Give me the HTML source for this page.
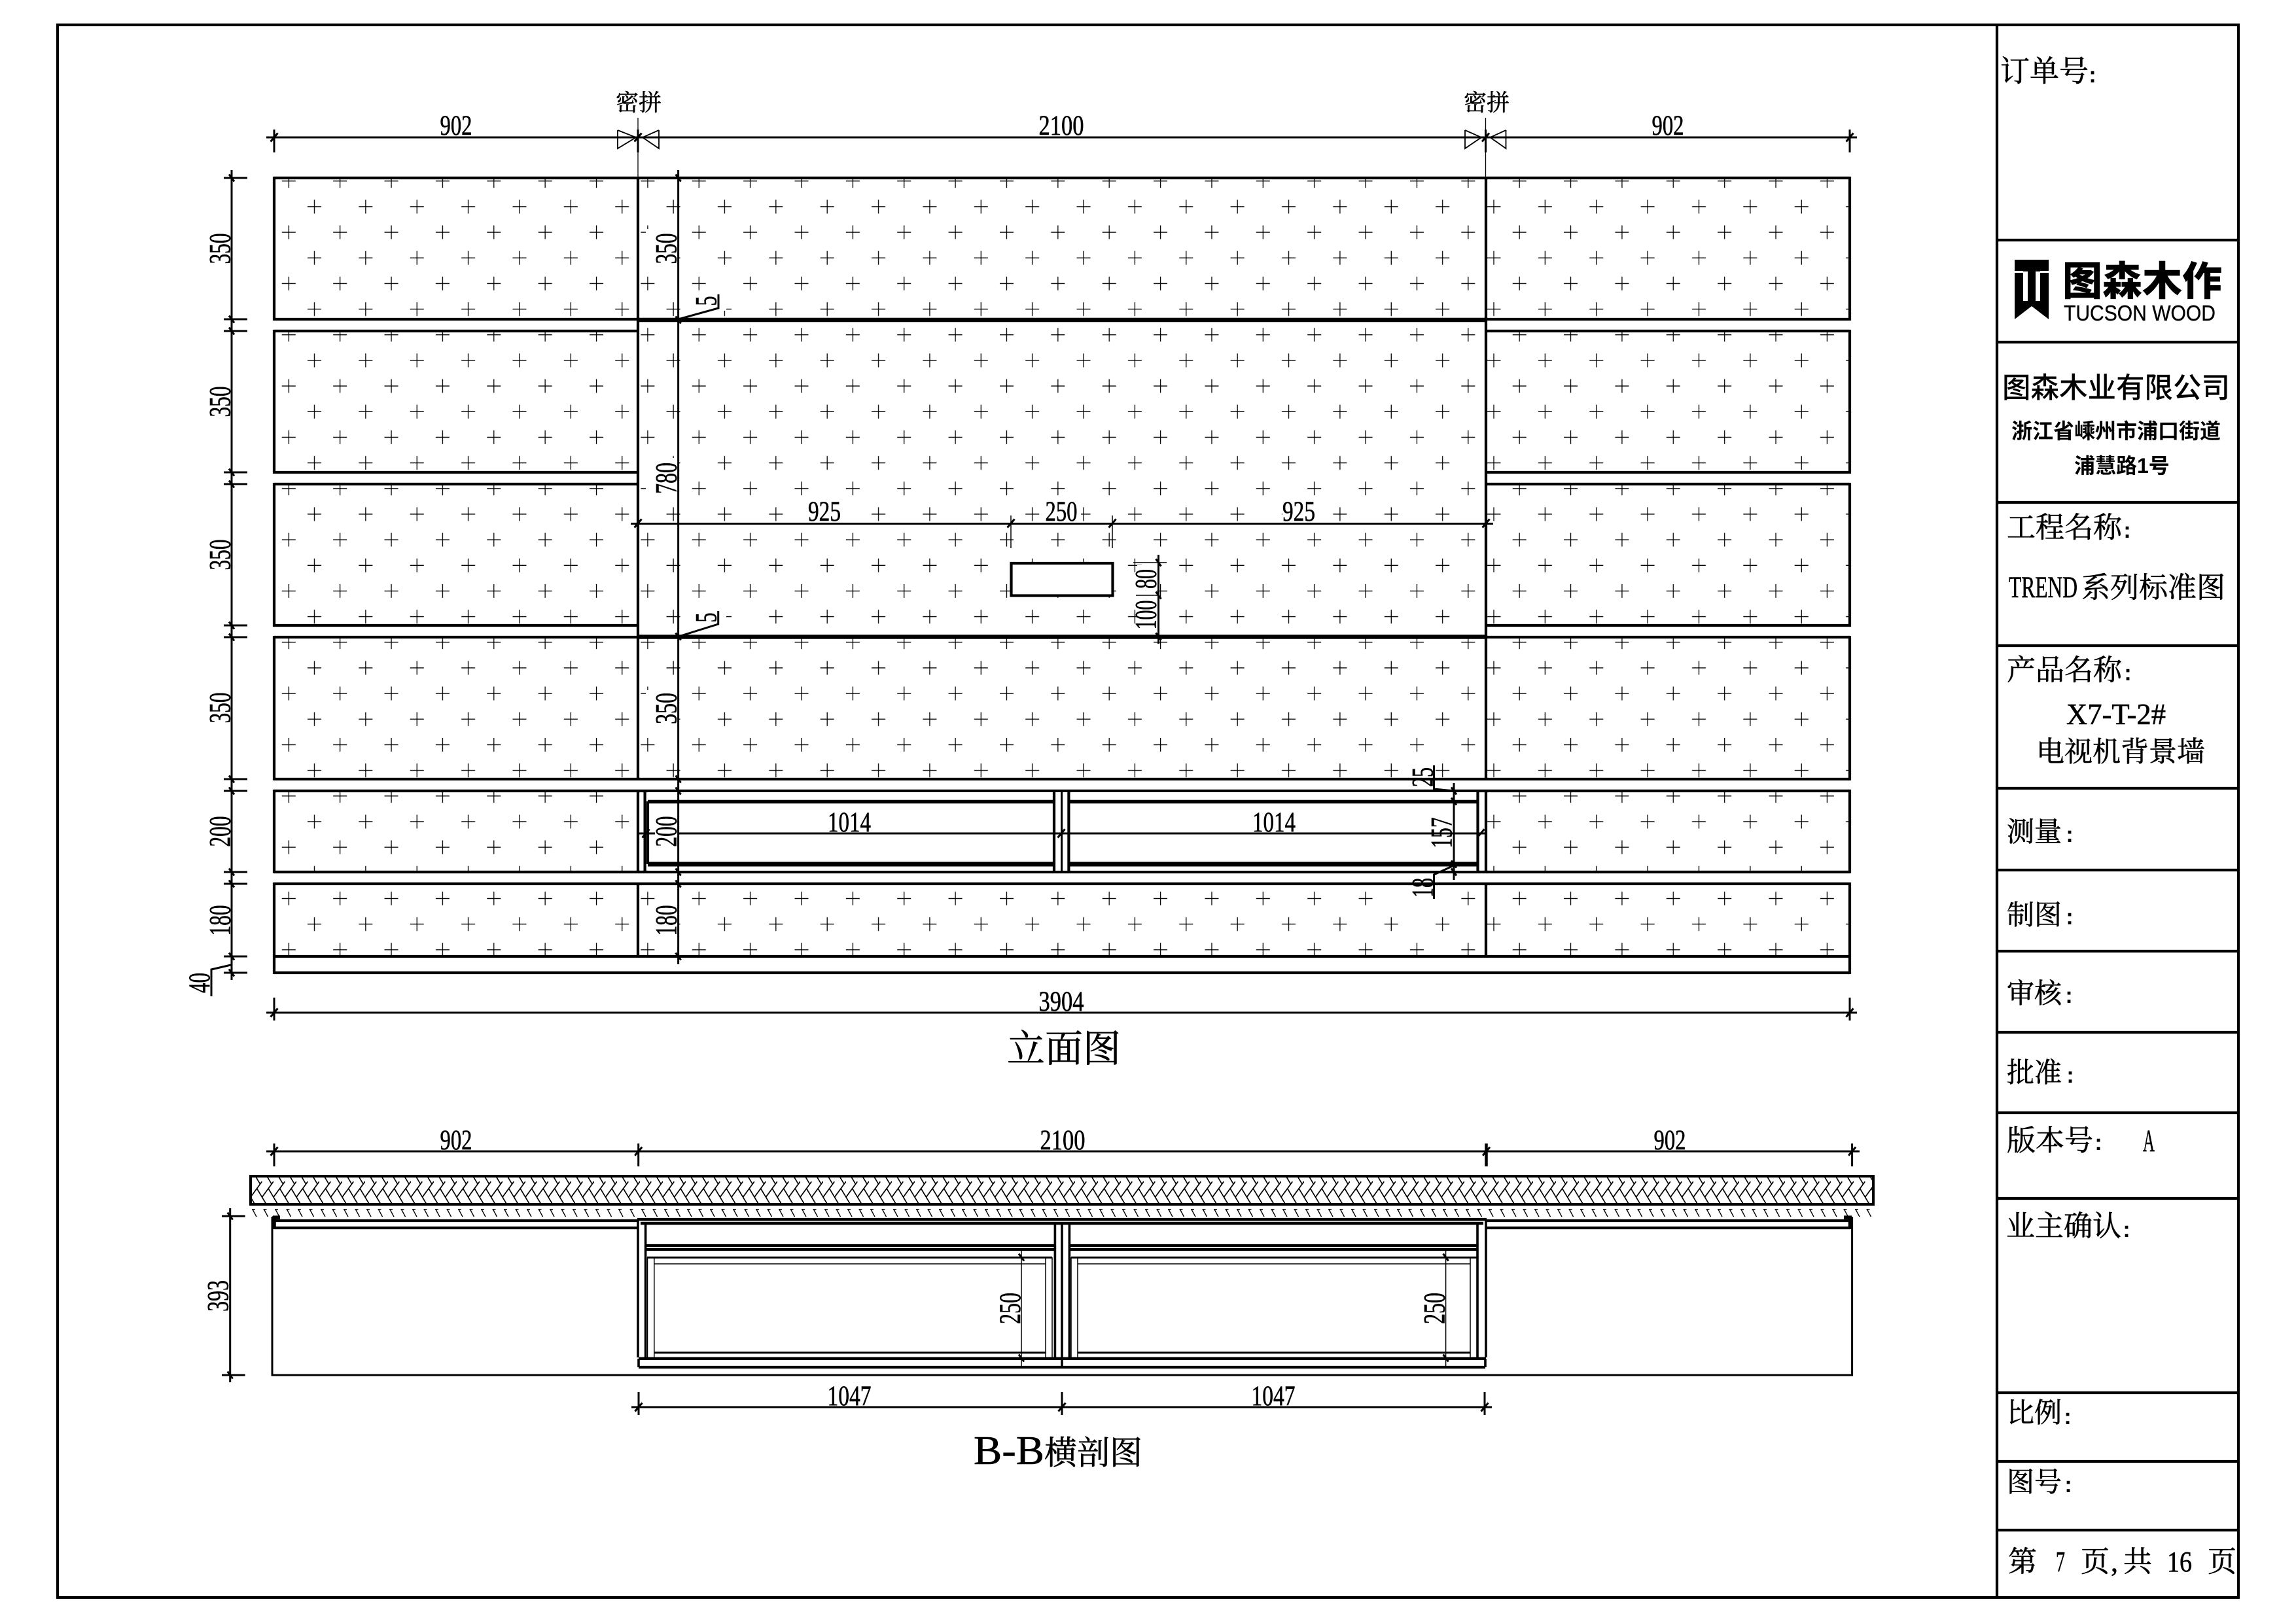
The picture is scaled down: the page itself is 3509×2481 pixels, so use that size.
<!DOCTYPE html>
<html><head><meta charset="utf-8">
<style>
html,body{margin:0;padding:0;background:#fff}
svg{display:block}
.n{font-family:"Liberation Serif",serif;font-size:43px;text-anchor:middle;fill:#000;stroke:#000;stroke-width:.6}
.v{font-family:"Liberation Serif",serif;font-size:47px;text-anchor:middle;fill:#000;stroke:#000;stroke-width:.6}
.z{font-family:"Liberation Serif","Noto Serif CJK SC",serif;font-size:44px;fill:#000;stroke:#000;stroke-width:.6}
.c{font-family:"Liberation Sans",sans-serif;font-size:34px;font-weight:bold;text-anchor:middle;fill:#000}
.s{font-family:"Liberation Sans","Noto Sans CJK SC",sans-serif;font-weight:500;fill:#000}
.l{fill:none;stroke:#000;stroke-width:4.2}
.t{fill:none;stroke:#000;stroke-width:6.5}
.d{fill:none;stroke:#000;stroke-width:3}
.f{fill:none;stroke:#000;stroke-width:1.5}
</style></head><body>
<svg xmlns="http://www.w3.org/2000/svg" width="3509" height="2481" viewBox="0 0 3509 2481">
<defs>
<pattern id="cr" patternUnits="userSpaceOnUse" x="421.3" y="256.7" width="78.37" height="78.34">
<path d="M9.5 20H30.5M20 9.5V30.5M48.7 59.2H69.7M59.2 48.7V69.7" fill="none" stroke="#000" stroke-width="1.3"/>
</pattern>
<pattern id="her" patternUnits="userSpaceOnUse" x="383" y="1798" width="17.5" height="43">
<path d="M0 32L17.5 8M7.4 0L14.6 12M9.6 18.8L24.1 43M-7.9 18.8L6.6 43" fill="none" stroke="#000" stroke-width="1.7"/>
</pattern>
<pattern id="das" patternUnits="userSpaceOnUse" x="383" y="1848" width="17.5" height="12">
<path d="M2 .8H7M3 .8L9 12" fill="none" stroke="#000" stroke-width="1.4"/>
</pattern>
<path id="h" d="M-5.5 6.5L5.5 -6.5" fill="none" stroke="#000" stroke-width="3"/>
<path id="k" d="M-4 -5.5L4 5.5" fill="none" stroke="#000" stroke-width="3"/>
</defs>
<rect width="3509" height="2481" fill="#fff"/>

<!-- frame -->
<rect x="88" y="38" width="3333" height="2404" class="l"/>
<path class="l" d="M3052 38V2442M3052 367H3421M3052 523H3421M3052 768H3421M3052 987H3421M3052 1205H3421M3052 1330H3421M3052 1454H3421M3052 1578H3421M3052 1701H3421M3052 1832H3421M3052 2129H3421M3052 2234H3421M3052 2339H3421"/>

<!-- cross hatch panels -->
<path fill="url(#cr)" d="M419 272H2827V488H419ZM975 488H2271V974H975ZM419 506H975V722H419ZM2271 506H2827V722H2271ZM419 740H975V956H419ZM2271 740H2827V956H2271ZM419 974H2827V1191H419ZM419 1209H975V1333H419ZM2271 1209H2827V1333H2271ZM419 1351H2827V1462H419Z"/>
<!-- text wipeouts -->
<g fill="#fff">
<rect x="987" y="350" width="49" height="60"/>
<rect x="987" y="1055" width="49" height="56"/>
<rect x="987" y="700" width="49" height="58"/>
<rect x="1060" y="445" width="50" height="30"/>
<rect x="1060" y="930" width="50" height="30"/>
<rect x="1235" y="765" width="50" height="33"/>
<rect x="1597" y="765" width="55" height="33"/>
<rect x="1960" y="765" width="50" height="33"/>
<rect x="1738" y="864" width="30" height="42"/>
<rect x="1738" y="915" width="30" height="54"/>
<rect x="2150" y="1340" width="40" height="45"/>
<rect x="1000" y="1380" width="36" height="50"/>
<rect x="2150" y="1150" width="40" height="40"/>
</g>

<!-- elevation main lines -->
<path class="l" d="M419 272H2827M419 488H975M2271 488H2827M419 506H975M2271 506H2827M419 722H975M2271 722H2827M419 740H975M2271 740H2827M419 956H975M2271 956H2827M419 974H2827M419 1191H2827M419 1209H2827M419 1333H2827M419 1351H2827M419 1462H2827M419 1487H2827"/>
<path class="l" d="M419 270V490M419 504V724M419 738V958M419 972V1193M419 1207V1335M419 1349V1489M2827 270V490M2827 504V724M2827 738V958M2827 972V1193M2827 1207V1335M2827 1349V1489M975 272V1191M2271 272V1191M975 1209V1333M2271 1209V1333M975 1351V1462M2271 1351V1462"/>
<path class="t" d="M975 489H2271M975 973.5H2271"/>
<rect x="1545.5" y="861" width="155" height="49.5" fill="#fff" stroke="#000" stroke-width="4.2"/>

<!-- cabinet in elevation -->
<rect x="990" y="1211" width="1268" height="120" fill="#fff"/>
<path class="l" d="M985.6 1209V1333M990 1225V1321M1611 1209V1333M1633.4 1209V1333M2258.5 1209V1333"/>
<path class="d" d="M1622.6 1209V1333"/>
<path fill="none" stroke="#000" stroke-width="5.5" d="M990 1225.5H1611M1633 1225.5H2258"/>
<path fill="none" stroke="#000" stroke-width="7" d="M990 1321H1611M1633 1321H2258"/>
<path class="d" d="M975 1274H1001M1036 1274H2271"/>

<!-- elevation dims -->
<path class="d" d="M407 210H2838M419 198V233M2827 198V233M975 198V233M2270.5 198V233"/>
<path fill="none" stroke="#000" stroke-width="1.3" d="M975 180V272M2270.5 180V272"/>
<path fill="none" stroke="#000" stroke-width="1.8" d="M944 199V227L972 210L944 199M1007 199V227L982 210L1007 199M2239 199V227L2264 210L2239 199M2301.5 199V227L2277.5 210L2301.5 199"/>
<path class="d" d="M354 260V1498M342 272H378M342 488H378M342 506H378M342 722H378M342 740H378M342 956H378M342 974H378M342 1191H378M342 1209H378M342 1333H378M342 1351H378M342 1462H378M342 1487H378"/>
<path class="d" d="M1036.6 260V1474"/>
<path class="d" d="M964 800.5H2282"/>
<path class="f" d="M1545 788V838M1700 788V838M1732 860H1783M1736 910H1771"/>
<path class="d" d="M1770.5 848V984M2222 1197V1345"/>
<path class="d" d="M407 1548H2838"/>
<path class="d" d="M419 1525V1560M2827 1525V1560"/>
<path class="d" d="M1036.6 488L1098 471V450M1037 973L1097.7 954V934M353 1475L323 1482V1523M2222 1209L2191.5 1206V1170M2222 1323L2191.5 1337V1374"/>

<use href="#h" x="419" y="210"/><use href="#h" x="975" y="210"/><use href="#h" x="2270.5" y="210"/><use href="#h" x="2827" y="210"/>
<use href="#h" x="975" y="800"/><use href="#h" x="1545" y="800"/><use href="#h" x="1700" y="800"/><use href="#h" x="2271" y="800"/>
<use href="#h" x="419" y="1548"/><use href="#h" x="2827" y="1548"/>
<use href="#h" x="987" y="1274"/><use href="#h" x="1622" y="1274"/><use href="#h" x="2263" y="1274"/>
<use href="#k" x="354" y="272"/><use href="#k" x="354" y="488"/><use href="#k" x="354" y="506"/><use href="#k" x="354" y="722"/><use href="#k" x="354" y="740"/><use href="#k" x="354" y="956"/><use href="#k" x="354" y="974"/><use href="#k" x="354" y="1191"/><use href="#k" x="354" y="1209"/><use href="#k" x="354" y="1333"/><use href="#k" x="354" y="1351"/><use href="#k" x="354" y="1462"/><use href="#k" x="354" y="1487"/>
<use href="#k" x="1036.6" y="272"/><use href="#k" x="1036.6" y="489"/><use href="#k" x="1036.6" y="973"/><use href="#k" x="1036.6" y="1191"/><use href="#k" x="1036.6" y="1209"/><use href="#k" x="1036.6" y="1333"/><use href="#k" x="1036.6" y="1351"/><use href="#k" x="1036.6" y="1462"/>
<use href="#k" x="1770.5" y="860"/><use href="#k" x="1770.5" y="910"/><use href="#k" x="1770.5" y="973"/>
<use href="#k" x="2222" y="1209"/><use href="#k" x="2222" y="1225"/><use href="#k" x="2222" y="1321"/><use href="#k" x="2222" y="1333"/>

<!-- elevation dim text -->
<text class="n" x="697" y="206" textLength="49" lengthAdjust="spacingAndGlyphs">902</text>
<text class="n" x="1622" y="206" textLength="69" lengthAdjust="spacingAndGlyphs">2100</text>
<text class="n" x="2549" y="206" textLength="49" lengthAdjust="spacingAndGlyphs">902</text>
<text class="n" x="1622" y="1545" textLength="69" lengthAdjust="spacingAndGlyphs">3904</text>
<text class="n" x="1260" y="796" textLength="50" lengthAdjust="spacingAndGlyphs">925</text>
<text class="n" x="1622" y="796" textLength="49" lengthAdjust="spacingAndGlyphs">250</text>
<text class="n" x="1985" y="796" textLength="50" lengthAdjust="spacingAndGlyphs">925</text>
<text class="n" x="1298" y="1271" textLength="66" lengthAdjust="spacingAndGlyphs">1014</text>
<text class="n" x="1947" y="1271" textLength="66" lengthAdjust="spacingAndGlyphs">1014</text>
<text class="v" transform="translate(336,380) rotate(-90)" y="15.5" textLength="47" lengthAdjust="spacingAndGlyphs">350</text>
<text class="v" transform="translate(336,614) rotate(-90)" y="15.5" textLength="47" lengthAdjust="spacingAndGlyphs">350</text>
<text class="v" transform="translate(336,848) rotate(-90)" y="15.5" textLength="47" lengthAdjust="spacingAndGlyphs">350</text>
<text class="v" transform="translate(336,1082) rotate(-90)" y="15.5" textLength="47" lengthAdjust="spacingAndGlyphs">350</text>
<text class="v" transform="translate(336,1271) rotate(-90)" y="15.5" textLength="47" lengthAdjust="spacingAndGlyphs">200</text>
<text class="v" transform="translate(336,1407) rotate(-90)" y="15.5" textLength="47" lengthAdjust="spacingAndGlyphs">180</text>
<text class="v" transform="translate(304.5,1502.5) rotate(-90)" y="15.5" textLength="31" lengthAdjust="spacingAndGlyphs">40</text>
<text class="v" transform="translate(1018,380) rotate(-90)" y="15.5" textLength="47" lengthAdjust="spacingAndGlyphs">350</text>
<text class="v" transform="translate(1018,731) rotate(-90)" y="15.5" textLength="48" lengthAdjust="spacingAndGlyphs">780</text>
<text class="v" transform="translate(1018,1083) rotate(-90)" y="15.5" textLength="48" lengthAdjust="spacingAndGlyphs">350</text>
<text class="v" transform="translate(1018,1271) rotate(-90)" y="15.5" textLength="47" lengthAdjust="spacingAndGlyphs">200</text>
<text class="v" transform="translate(1018,1407) rotate(-90)" y="15.5" textLength="47" lengthAdjust="spacingAndGlyphs">180</text>
<text class="v" transform="translate(1079,460) rotate(-90)" y="15.5" textLength="15" lengthAdjust="spacingAndGlyphs">5</text>
<text class="v" transform="translate(1079,944) rotate(-90)" y="15.5" textLength="15" lengthAdjust="spacingAndGlyphs">5</text>
<text class="v" transform="translate(1751,885) rotate(-90)" y="15.5" textLength="30" lengthAdjust="spacingAndGlyphs">80</text>
<text class="v" transform="translate(1751,940) rotate(-90)" y="15.5" textLength="45" lengthAdjust="spacingAndGlyphs">100</text>
<text class="v" transform="translate(2203,1273) rotate(-90)" y="15.5" textLength="47" lengthAdjust="spacingAndGlyphs">157</text>
<text class="v" transform="translate(2174,1188) rotate(-90)" y="15.5" textLength="30" lengthAdjust="spacingAndGlyphs">25</text>
<text class="v" transform="translate(2174,1357) rotate(-90)" y="15.5" textLength="30" lengthAdjust="spacingAndGlyphs">18</text>
<text class="z" x="941" y="169" style="font-size:35px">密拼</text>
<text class="z" x="2237" y="169" style="font-size:35px">密拼</text>
<text class="z" x="1539" y="1623" style="font-size:58px">立面图</text>

<!-- section -->
<path class="d" d="M407 1760H2842M419 1748V1783M975.7 1748V1783"/>
<path fill="none" stroke="#000" stroke-width="4.5" d="M2271.5 1748V1783"/>
<path class="d" d="M2830.6 1748V1783"/>
<use href="#h" x="419" y="1760"/><use href="#h" x="975.7" y="1760"/><use href="#h" x="2271.5" y="1760"/><use href="#h" x="2830.6" y="1760"/>
<text class="n" x="697" y="1757" textLength="49" lengthAdjust="spacingAndGlyphs">902</text>
<text class="n" x="1624" y="1757" textLength="69" lengthAdjust="spacingAndGlyphs">2100</text>
<text class="n" x="2552" y="1757" textLength="49" lengthAdjust="spacingAndGlyphs">902</text>
<rect x="383" y="1798" width="2480" height="43" fill="url(#her)" stroke="#000" stroke-width="4"/>
<rect x="382" y="1848" width="2482" height="12" fill="url(#das)"/>
<!-- outer thin box -->
<path class="d" d="M416 1860V2102H2830.6V1860"/>
<!-- side shelves -->
<path class="l" d="M419 1866H975M419 1877H975M2272 1866H2828M2272 1877H2828"/>
<path fill="none" stroke="#000" stroke-width="5.5" d="M419 1859V1879M2827.5 1859V1879M417 1861H428M2818 1861H2830"/>
<!-- center cabinet -->
<path class="l" d="M974 1864H2272"/>
<path fill="none" stroke="#000" stroke-width="4.5" d="M979 1870H2267M976 2076.7H2271"/>
<path class="l" d="M976 2090H2270"/>
<path fill="none" stroke="#000" stroke-width="3.6" d="M975 1864V2075M986.6 1870V2075M2258 1870V2075M2271 1864V2075M1612.4 1870V2075M1623 1870V2090M1634.4 1870V2075M976 2077V2090M2270 2077V2090"/>
<path class="l" d="M987 1904H1612M987 1910H1612M1634 1904H2258M1634 1910H2258"/>
<path class="d" d="M989 1922.3H1608M1637 1922.3H2258M1000 2067.7H1598M1647 2067.7H2247"/>
<path class="f" d="M1000 1932H1598M1647 1932H2247M989.5 1922V2075M999.8 1922V2075M1598 1922V2075M1608 1922V2075M1637 1922V2075M1647 1922V2075M2247 1922V2075"/>
<path class="f" d="M1561 1912V2088M2209.6 1912V2088"/>
<use href="#k" x="1561" y="1922"/><use href="#k" x="1561" y="2076"/><use href="#k" x="2209.6" y="1922"/><use href="#k" x="2209.6" y="2076"/>
<text class="v" transform="translate(1543.5,2000) rotate(-90)" y="15.5" textLength="48" lengthAdjust="spacingAndGlyphs">250</text>
<text class="v" transform="translate(2192,2000) rotate(-90)" y="15.5" textLength="48" lengthAdjust="spacingAndGlyphs">250</text>
<!-- 393 -->
<path class="d" d="M351.7 1847V2113M339 1859H374.6M339 2102H374.6"/>
<use href="#k" x="351.7" y="1859"/><use href="#k" x="351.7" y="2102"/>
<text class="v" transform="translate(333,1981) rotate(-90)" y="15.5" textLength="48" lengthAdjust="spacingAndGlyphs">393</text>
<!-- 1047 -->
<path class="d" d="M965 2151H2280M976 2128V2163M1623 2128V2163M2269 2128V2163"/>
<use href="#h" x="976" y="2151"/><use href="#h" x="1623" y="2151"/><use href="#h" x="2269" y="2151"/>
<text class="n" x="1298" y="2148" textLength="67" lengthAdjust="spacingAndGlyphs">1047</text>
<text class="n" x="1946" y="2148" textLength="67" lengthAdjust="spacingAndGlyphs">1047</text>
<text class="z" x="1488" y="2238" style="font-size:62px" textLength="108" lengthAdjust="spacingAndGlyphs">B-B</text>
<text class="z" x="1596" y="2238" style="font-size:50px">横剖图</text>

<!-- title block text -->
<text class="z" x="3057" y="124" style="font-size:45px">订单号</text><text class="c" x="3198" y="126">:</text>
<!-- logo -->
<path fill="#000" d="M3079 397H3131V488L3105 468L3079 488Z"/>
<path fill="#fff" d="M3079 414H3092V417H3079ZM3118 414H3131V417H3118ZM3092 415H3099V460H3092ZM3111 415H3118V460H3111Z"/>
<text class="s" x="3152" y="451" style="font-size:61px;font-weight:900">图森木作</text>
<text x="3154" y="490" style="font-family:'Liberation Sans',sans-serif;font-size:33px;stroke:#000;stroke-width:.4" textLength="232" lengthAdjust="spacingAndGlyphs">TUCSON WOOD</text>
<text class="s" x="3060" y="608" style="font-size:43.5px">图森木业有限公司</text>
<text class="s" x="3074" y="670" style="font-size:32px;font-weight:700">浙江省嵊州市浦口街道</text>
<text class="s" x="3170" y="723" style="font-size:32px;font-weight:700">浦慧路1号</text>

<text class="z" x="3067" y="821">工程名称</text><text class="c" x="3251" y="822">:</text>
<text class="z" x="3070" y="913" style="font-size:47px" textLength="105" lengthAdjust="spacingAndGlyphs">TREND</text>
<text class="z" x="3181" y="913">系列标准图</text>
<text class="z" x="3067" y="1039">产品名称</text><text class="c" x="3252" y="1040">:</text>
<text class="z" x="3158" y="1107" textLength="152" lengthAdjust="spacingAndGlyphs" style="font-size:46px">X7-T-2#</text>
<text class="z" x="3112" y="1164" style="font-size:43px">电视机背景墙</text>
<text class="z" x="3067" y="1286" style="font-size:42px">测量</text><text class="c" x="3163" y="1287">:</text>
<text class="z" x="3067" y="1413" style="font-size:42px">制图</text><text class="c" x="3163" y="1413">:</text>
<text class="z" x="3067" y="1533" style="font-size:42px">审核</text><text class="c" x="3162" y="1533">:</text>
<text class="z" x="3067" y="1654" style="font-size:42px">批准</text><text class="c" x="3164" y="1655">:</text>
<text class="z" x="3067" y="1758">版本号</text><text class="c" x="3207" y="1758">:</text>
<text class="z" x="3275" y="1760" textLength="18" lengthAdjust="spacingAndGlyphs" style="font-size:48px">A</text>
<text class="z" x="3066" y="1889">业主确认</text><text class="c" x="3250" y="1891">:</text>
<text class="z" x="3067" y="2174" style="font-size:42px">比例</text><text class="c" x="3160" y="2177">:</text>
<text class="z" x="3067" y="2280" style="font-size:42px">图号</text><text class="c" x="3161" y="2281">:</text>
<text class="z" x="3069" y="2402">第</text>
<text class="z" x="3142" y="2402" textLength="14" lengthAdjust="spacingAndGlyphs">7</text>
<text class="z" x="3180" y="2402">页</text>
<text class="z" x="3226" y="2402">,</text>
<text class="z" x="3245" y="2402">共</text>
<text class="z" x="3312" y="2402" textLength="38" lengthAdjust="spacingAndGlyphs">16</text>
<text class="z" x="3374" y="2402">页</text>
</svg>
</body></html>
